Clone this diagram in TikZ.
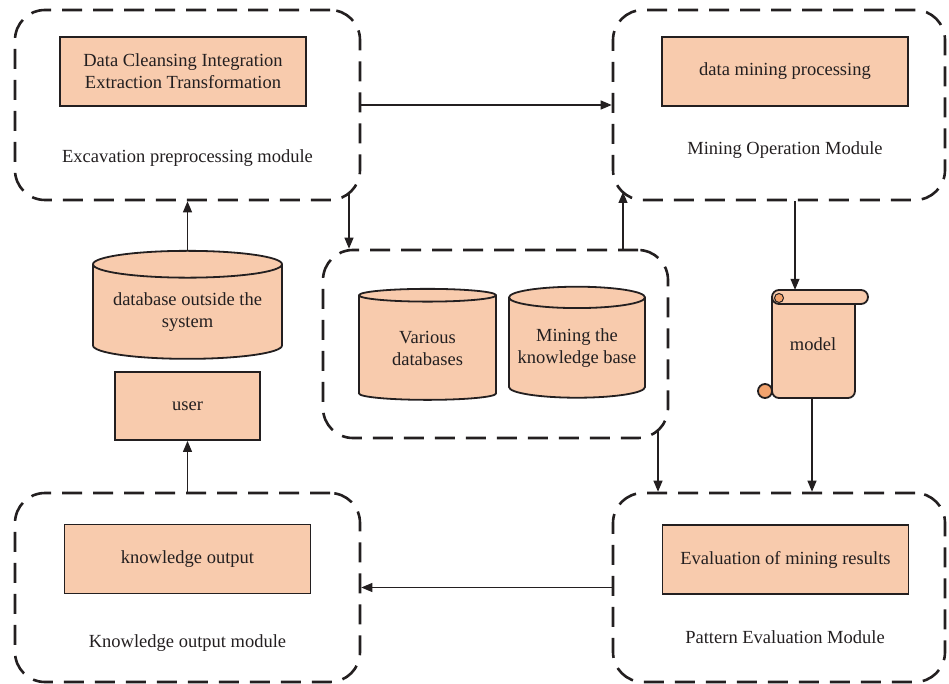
\documentclass[tikz,border=0pt]{standalone}
\usepackage{fontspec}
\setmainfont{Liberation Serif}
\usetikzlibrary{arrows.meta,shapes.geometric}
\definecolor{peach}{HTML}{F8CBAD}
\definecolor{curl}{HTML}{F2A36E}
\definecolor{ink}{HTML}{231F20}
\tikzset{
  module/.style={draw=ink, line width=2.6pt, dash pattern=on 20pt off 11pt,
    rounded corners=30pt, minimum height=190pt},
  task/.style={draw=ink, line width=1.8pt, fill=peach, minimum width=246pt,
    minimum height=69pt, align=center, inner sep=0pt},
  store/.style={cylinder, shape border rotate=90, draw=ink, line width=1.8pt,
    fill=peach, align=center, aspect=0.18, inner sep=0pt},
  flow/.style={draw=ink, line width=1.1pt, -{Triangle[length=11pt,width=9pt]}},
  scroll/.style={draw=ink, line width=1.8pt, fill=peach},
}
\begin{document}
\begin{tikzpicture}[x=1pt, y=-1pt, font=\fontsize{18.5}{22}\selectfont, text=ink]
    \useasboundingbox (0,0) rectangle (949,684);

    % modules
    \node[module, minimum width=345pt] (prep)   at (187.5,105) {};
    \node[module, minimum width=332pt] (mine)   at (779,105)   {};
    \node[module, minimum width=345pt, minimum height=188pt] (store) at (495.5,344) {};
    \node[module, minimum width=345pt, minimum height=189pt] (output) at (187.5,587.5) {};
    \node[module, minimum width=332pt, minimum height=189pt] (eval)   at (779,587.5) {};

    \node[task] (prepbox) at (183,71.5) {Data Cleansing Integration\\Extraction Transformation};
    \node at (187.5,158) (preplab) {Excavation preprocessing module};
    \node[task] (minebox) at (785,71.5) {data mining processing};
    \node at (785,150) (minelab) {Mining Operation Module};
    \node[task] (outbox) at (187.5,559) {knowledge output};
    \node at (187.5,643) (outlab) {Knowledge output module};
    \node[task] (evalbox) at (785.5,559.5) {Evaluation of mining results};
    \node at (785,637) (evallab) {Pattern Evaluation Module};

    % databases
    \node[store, minimum width=189pt, minimum height=108pt] (dbout) at (187.5,312) {database outside the\\system};
    \node[store, minimum width=137pt, minimum height=111pt] (dbvar) at (427.5,348) {Various\\databases};
    \node[store, minimum width=136pt, minimum height=111pt] (dbkno) at (577,348) {Mining the\\knowledge base};
    \node[task, minimum width=145pt, minimum height=68pt] (user) at (187.5,406) {user};

    % model scroll
    \draw[scroll, rounded corners=7pt] (772,297) -- (772,398) -- (855,398) -- (855,297);
    \draw[scroll, rounded corners=7pt] (772,290) rectangle (868,304);
    \draw[ink, line width=1pt, fill=curl] (779,298) circle[radius=4.5pt];
    \draw[scroll, fill=curl] (765,391) circle[radius=7pt];
    \node[minimum width=110pt, minimum height=108pt, inner sep=0pt] (model) at (813,344) {model};

    % connectors
    \coordinate (dropL) at (349,193);
    \coordinate (riseR) at (623,192);
    \coordinate (dropR) at (658,430);
    \coordinate (modin) at (795,0);
    \coordinate (modout) at (812,0);

    \draw[flow] (prep.east) -- (mine.west);
    \draw[flow] (dropL) -- (store.north -| dropL);
    \draw[flow] (store.north -| riseR) -- (riseR);
    \draw[flow] (dbout.north) -- (prep.south);
    \draw[flow] (output.north) -- (user.south);
    \draw[flow] (mine.south -| modin) -- (model.north -| modin);
    \draw[flow] (model.south -| modout) -- (eval.north -| modout);
    \draw[flow] (dropR) -- (eval.north -| dropR);
    \draw[flow] (eval.west) -- (output.east);
\end{tikzpicture}
\end{document}
